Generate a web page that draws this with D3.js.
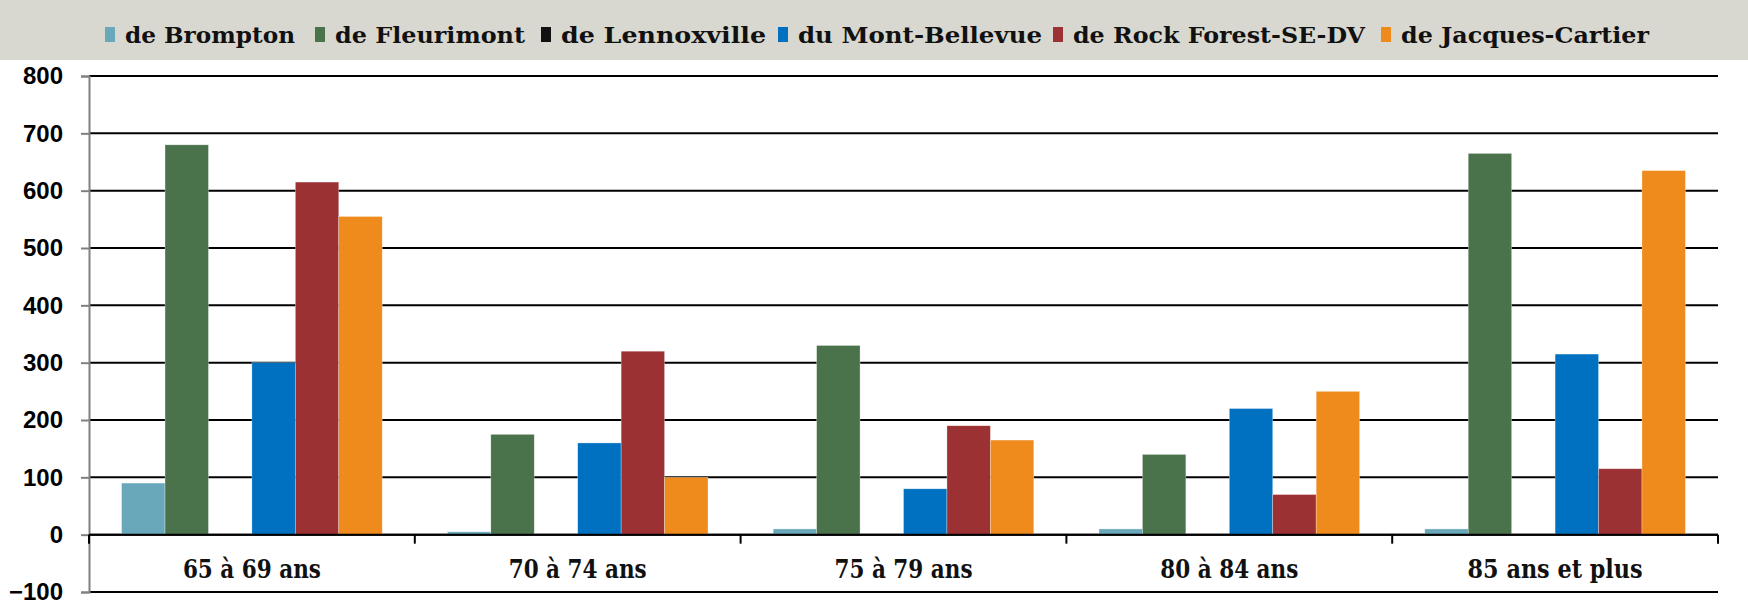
<!DOCTYPE html>
<html>
<head>
<meta charset="utf-8">
<script src="https://cdn.jsdelivr.net/npm/d3@7"></script>
<style>
  body { margin: 0; background: #fff; }
  svg { display: block; }
</style>
</head>
<body>
<svg id="chart" width="1748" height="601"></svg>
<script>
// Age groups
var categories = ['65 à 69 ans', '70 à 74 ans', '75 à 79 ans', '80 à 84 ans', '85 ans et plus'];

// Series (arrondissements)
var seriesNames = ['de Brompton', 'de Fleurimont', 'de Lennoxville', 'du Mont-Bellevue', 'de Rock Forest-SE-DV', 'de Jacques-Cartier'];
var seriesColors = ['#69a8bb', '#4a734c', '#111111', '#0070c0', '#9c3133', '#ef8a1c'];

// Values per series, one per age group
var brompton = [90, 5, 10, 10, 10];
var fleurimont = [680, 175, 330, 140, 665];
var lennoxville = [0, 0, 0, 0, 0];
var montBellevue = [300, 160, 80, 220, 315];
var rockForest = [615, 320, 190, 70, 115];
var jacquesCartier = [555, 100, 165, 250, 635];

var yTicks = [-100, 0, 100, 200, 300, 400, 500, 600, 700, 800];

var allSeries = [brompton, fleurimont, lennoxville, montBellevue, rockForest, jacquesCartier];

var svg = d3.select('#chart');

// Legend band
svg.append('rect')
   .attr('x', 0).attr('y', 0)
   .attr('width', 1748).attr('height', 60)
   .attr('fill', '#d9d8d0');

var legendSquareX = [105, 315, 541, 778, 1053, 1381];
var legendTextW = [170, 190, 205, 244, 292, 248];

var legend = svg.selectAll('g.legend').data(seriesNames).enter()
  .append('g').attr('class', 'legend');

legend.append('rect')
  .attr('x', function(d, i) { return legendSquareX[i]; })
  .attr('y', 27)
  .attr('width', 10)
  .attr('height', 15)
  .attr('fill', function(d, i) { return seriesColors[i]; });

legend.append('text')
  .attr('x', function(d, i) { return legendSquareX[i] + 20; })
  .attr('y', 43)
  .attr('textLength', function(d, i) { return legendTextW[i]; })
  .attr('lengthAdjust', 'spacingAndGlyphs')
  .style('font-family', '"DejaVu Serif", serif')
  .style('font-weight', 'bold')
  .style('font-size', '22px')
  .style('fill', '#111')
  .text(function(d) { return d; });

// Scales
var left = 89, right = 1718;
var x0 = d3.scaleBand().domain(categories).range([left, right]);
var x1 = d3.scaleBand().domain(seriesNames).range([0, x0.bandwidth()])
  .paddingInner(0).paddingOuter(0.75);
var y = d3.scaleLinear().domain([-100, 800]).range([592, 76]);

// Gridlines
svg.selectAll('line.grid').data(yTicks).enter()
  .append('line')
  .attr('x1', left).attr('x2', right)
  .attr('y1', function(d) { return y(d); })
  .attr('y2', function(d) { return y(d); })
  .attr('stroke', '#000')
  .attr('stroke-width', 2);

// Y axis
var yAxis = d3.axisLeft(y).tickValues(yTicks).tickSize(8).tickPadding(18);
var gy = svg.append('g').attr('transform', 'translate(' + left + ',0)').call(yAxis);
gy.select('.domain').attr('stroke', '#808080').attr('stroke-width', 2);
gy.selectAll('.tick line').attr('stroke', '#808080').attr('stroke-width', 2);
gy.selectAll('.tick text')
  .style('font-family', '"Liberation Sans", Arial, sans-serif')
  .style('font-weight', 'bold')
  .style('font-size', '24px')
  .style('fill', '#000');

// Bars
var groups = svg.selectAll('g.cat').data(categories).enter()
  .append('g').attr('class', 'cat')
  .attr('transform', function(d) { return 'translate(' + x0(d) + ',0)'; });

groups.selectAll('rect')
  .data(function(d, ci) {
    return seriesNames.map(function(s, si) { return {s: s, i: si, v: allSeries[si][ci]}; });
  })
  .enter().append('rect')
  .attr('x', function(d) { return x1(d.s); })
  .attr('width', x1.bandwidth())
  .attr('y', function(d) { return y(Math.max(0, d.v)); })
  .attr('height', function(d) { return Math.abs(y(d.v) - y(0)); })
  .attr('fill', function(d) { return seriesColors[d.i]; })
  .attr('stroke', '#ffffff')
  .attr('stroke-opacity', 0.5)
  .attr('stroke-width', 0.6);

// Category axis: zero line with ticks between groups
var bounds = categories.map(function(c) { return x0(c); }).concat([right]);
svg.selectAll('line.ctick').data(bounds).enter()
  .append('line')
  .attr('x1', function(d) { return d; }).attr('x2', function(d) { return d; })
  .attr('y1', y(0)).attr('y2', y(0) + 9)
  .attr('stroke', '#000')
  .attr('stroke-width', 2);

svg.append('line')
  .attr('x1', left).attr('x2', right)
  .attr('y1', y(0)).attr('y2', y(0))
  .attr('stroke', '#000').attr('stroke-width', 2);

var labelW = [138, 138, 138, 138, 175];
svg.selectAll('text.cat').data(categories).enter()
  .append('text')
  .attr('x', function(d) { return x0(d) + x0.bandwidth() / 2; })
  .attr('y', 578)
  .attr('text-anchor', 'middle')
  .attr('textLength', function(d, i) { return labelW[i]; })
  .attr('lengthAdjust', 'spacingAndGlyphs')
  .style('font-family', '"DejaVu Serif", serif')
  .style('font-weight', 'bold')
  .style('font-size', '26px')
  .style('fill', '#111')
  .text(function(d) { return d; });
</script>
</body>
</html>
